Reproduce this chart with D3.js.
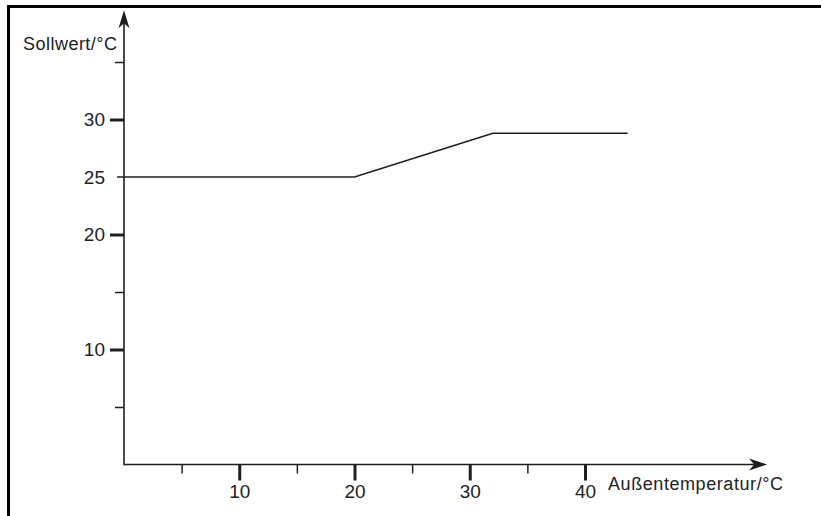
<!DOCTYPE html>
<html>
<head>
<meta charset="utf-8">
<script src="https://cdn.jsdelivr.net/npm/d3@7"></script>
<style>
  body { margin: 0; background: #fff; }
  text { font-family: "Liberation Sans", Arial, sans-serif; fill: #222; }
</style>
</head>
<body>
<div id="chart"></div>
<script>
'use strict';

// data
var curveX = [ -0.6, 20, 32, 43.7 ];
var curveY = [ 25, 25, 28.8, 28.8 ];

var xMajorTicks = [ 10, 20, 30, 40 ],
    xMinorTicks = [ 5, 15, 25, 35 ];
var yMajorTicks = [ 10, 20, 30 ],
    yMinorTicks = [ 5, 15, 35 ],
    yPlainTicks = [ 25 ];

var xTitle = 'Außentemperatur/°C',
    yTitle = 'Sollwert/°C';

var xArrowEnd = 55.8,
    yArrowEnd = 39.5;

var width = 821,
    height = 516;

var x = d3.scaleLinear()
    .domain( [ 0, 40 ] )
    .range( [ 124, 585 ] );

var y = d3.scaleLinear()
    .domain( [ 0, 30 ] )
    .range( [ 464.5, 119.5 ] );

var svg = d3.select( '#chart' )
  .append( 'svg' )
    .attr( 'width', width )
    .attr( 'height', height );

// frame (top and left only)
svg.append( 'path' )
    .attr( 'd', 'M8.5,' + height + 'V6.5H' + width )
    .attr( 'fill', 'none' )
    .attr( 'stroke', '#000' )
    .attr( 'stroke-width', 3 );

var ink = '#1e1e1e';

function styleAxis( g, w ) {
  g.select( '.domain' ).remove();
  g.selectAll( 'line' ).attr( 'stroke', ink ).attr( 'stroke-width', w );
  g.selectAll( 'text' ).style( 'font-size', '19px' ).attr( 'fill', '#222' );
}

// x ticks
svg.append( 'g' )
    .attr( 'transform', 'translate(0,' + y( 0 ) + ')' )
    .call( d3.axisBottom( x ).tickValues( xMinorTicks ).tickSize( 9 ).tickFormat( '' ) )
    .call( styleAxis, 1.5 );

svg.append( 'g' )
    .attr( 'transform', 'translate(0,' + y( 0 ) + ')' )
    .call( d3.axisBottom( x ).tickValues( xMajorTicks ).tickSize( 16 ).tickPadding( 4 ) )
    .call( styleAxis, 3 );

// y ticks
svg.append( 'g' )
    .attr( 'transform', 'translate(' + x( 0 ) + ',0)' )
    .call( d3.axisLeft( y ).tickValues( yMinorTicks ).tickSize( 9 ).tickFormat( '' ) )
    .call( styleAxis, 1.5 );

svg.append( 'g' )
    .attr( 'transform', 'translate(' + x( 0 ) + ',0)' )
    .call( d3.axisLeft( y ).tickValues( yMajorTicks ).tickSize( 14 ).tickPadding( 5 ) )
    .call( styleAxis, 3 );

svg.append( 'g' )
    .attr( 'transform', 'translate(' + x( 0 ) + ',0)' )
    .call( d3.axisLeft( y ).tickValues( yPlainTicks ).tickSize( 0 ).tickPadding( 19 ) )
    .call( styleAxis, 0 );

// axis lines with arrow heads
svg.append( 'line' )
    .attr( 'x1', x( 0 ) ).attr( 'x2', x( xArrowEnd ) - 8 )
    .attr( 'y1', y( 0 ) ).attr( 'y2', y( 0 ) )
    .attr( 'stroke', ink ).attr( 'stroke-width', 1.6 );

svg.append( 'line' )
    .attr( 'x1', x( 0 ) ).attr( 'x2', x( 0 ) )
    .attr( 'y1', y( 0 ) + 0.8 ).attr( 'y2', y( yArrowEnd ) + 8 )
    .attr( 'stroke', ink ).attr( 'stroke-width', 1.6 );

var xt = x( xArrowEnd ), yt = y( 0 );
svg.append( 'path' )
    .attr( 'd', 'M' + xt + ',' + yt +
                'L' + ( xt - 18 ) + ',' + ( yt - 6 ) +
                'L' + ( xt - 13 ) + ',' + yt +
                'L' + ( xt - 18 ) + ',' + ( yt + 6 ) + 'Z' )
    .attr( 'fill', ink );

var xu = x( 0 ), yu = y( yArrowEnd );
svg.append( 'path' )
    .attr( 'd', 'M' + xu + ',' + yu +
                'L' + ( xu - 5.5 ) + ',' + ( yu + 18 ) +
                'L' + xu + ',' + ( yu + 13 ) +
                'L' + ( xu + 5.5 ) + ',' + ( yu + 18 ) + 'Z' )
    .attr( 'fill', ink );

// titles
svg.append( 'text' )
    .attr( 'x', 23 )
    .attr( 'y', 50 )
    .style( 'font-size', '18px' )
    .attr( 'textLength', 94 )
    .text( yTitle );

svg.append( 'text' )
    .attr( 'x', 608 )
    .attr( 'y', 490 )
    .style( 'font-size', '18px' )
    .attr( 'textLength', 175 )
    .text( xTitle );

// curve
var line = d3.line()
    .x( function( d ) { return x( d[ 0 ] ); } )
    .y( function( d ) { return y( d[ 1 ] ); } );

svg.append( 'path' )
    .datum( d3.zip( curveX, curveY ) )
    .attr( 'd', line )
    .attr( 'fill', 'none' )
    .attr( 'stroke', ink )
    .attr( 'stroke-width', 1.6 );
</script>
</body>
</html>
